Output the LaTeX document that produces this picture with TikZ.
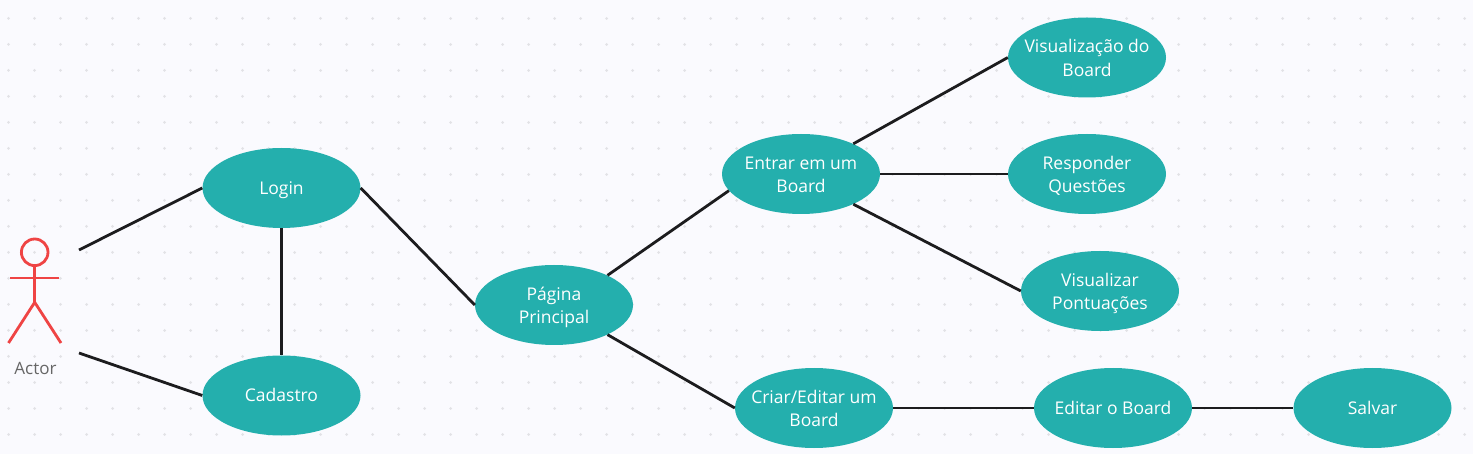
\documentclass[tikz,border=0pt]{standalone}
\usepackage{fontspec}
\setmainfont{Open Sans}
\usetikzlibrary{shapes.geometric}
\definecolor{bgc}{HTML}{FAFAFE}
\definecolor{dotc}{HTML}{E2E2E6}
\definecolor{teal1}{HTML}{24AFAD}
\definecolor{redc}{HTML}{EF4444}
\definecolor{linec}{HTML}{1C1C1E}
\definecolor{labc}{HTML}{666666}
\newcommand{\nodestrut}{\rule[-4.6pt]{0pt}{21.6pt}}
\newcommand{\tallstrut}{\rule{0pt}{42pt}}
\tikzset{
 usecase/.style={ellipse,fill=teal1,text=white,inner sep=-40pt,minimum width=158pt,minimum height=80pt,align=center,font=\fontsize{17.5}{23.5}\selectfont,execute at begin node=\nodestrut,execute at end node=\nodestrut},
 twolines/.style={usecase,execute at begin node=\tallstrut},
 link/.style={draw=linec,line width=2.8pt},
 actorline/.style={draw=redc,line width=2.8pt}
}
\begin{document}
\begin{tikzpicture}[x=1pt,y=-1pt]
\useasboundingbox (0,0) rectangle (1473,454);
\fill[bgc] (0,0) rectangle (1473,454);
\foreach \i in {0,...,56}{\foreach \j in {0,...,16}{
  \fill[dotc] ({8.6+26*\i},{18.4+26*\j}) circle (1.5pt);
}}
\node[usecase] (login) at (281.5,188) {Login};
\node[usecase] (cadastro) at (281.5,395.5) {Cadastro};
\node[twolines] (pagina) at (554,305) {Página\\Principal};
\node[twolines] (entrar) at (801,174) {Entrar em um\\Board};
\node[twolines] (visboard) at (1087,57.5) {Visualização do\\Board};
\node[twolines] (responder) at (1087,174) {Responder\\Questões};
\node[twolines] (pontos) at (1100,291) {Visualizar\\Pontuações};
\node[twolines] (criar) at (814,408) {Criar/Editar um\\Board};
\node[usecase] (editar) at (1113,408) {Editar o Board};
\node[usecase] (salvar) at (1372.5,408) {Salvar};
\coordinate (actorA) at (79,250);
\coordinate (actorB) at (79,353);
\draw[link] (actorA) -- (login.west);
\draw[link] (actorB) -- (cadastro.west);
\draw[link] (login.south) -- (cadastro.north);
\draw[link] (login.east) -- (pagina.west);
\draw[link] (pagina.29) -- (entrar.193);
\draw[link] (pagina.-29) -- (criar.west);
\draw[link] (entrar.30) -- (visboard.west);
\draw[link] (entrar.east) -- (responder.west);
\draw[link] (entrar.-30) -- (pontos.west);
\draw[link] (criar.east) -- (editar.west);
\draw[link] (editar.east) -- (salvar.west);
\draw[actorline] (34.7,252.3) circle (13.3pt);
\draw[actorline] (34.7,265.6) -- (34.7,302.3);
\draw[actorline] (10,278) -- (59,278);
\draw[actorline] (8.5,343) -- (34.7,302.3) -- (61,343);
\node[text=labc,font=\fontsize{17}{20}\selectfont,inner sep=0pt] (actorlabel) at (35.5,368) {Actor};
\end{tikzpicture}
\end{document}
